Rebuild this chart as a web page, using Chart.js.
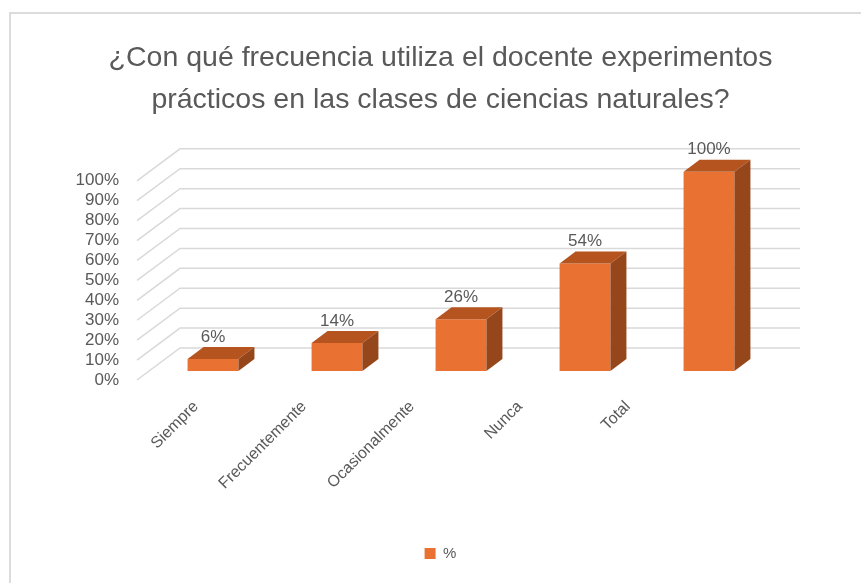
<!DOCTYPE html>
<html>
<head>
<meta charset="utf-8">
<script src="https://cdn.jsdelivr.net/npm/chart.js@4.4.1/dist/chart.umd.min.js"></script>
<style>
  html, body { margin: 0; padding: 0; background: #fff; }
  #marco {
    position: absolute; left: 9px; top: 12px; width: 900px; height: 600px;
    border-top: 2px solid #dcdcdc; border-left: 2px solid #dcdcdc;
  }
  #caja { position: absolute; left: 0; top: 0; width: 861px; height: 583px; }
</style>
</head>
<body>
<div id="marco"></div>
<div id="caja"><canvas id="grafico"></canvas></div>
<script>
// datos
const categorias = ["Siempre", "Frecuentemente", "Ocasionalmente", "Nunca", "Total"];
const porcentajes = [6, 14, 26, 54, 100];
const ticksY = [0, 10, 20, 30, 40, 50, 60, 70, 80, 90, 100];

// cores
const COR_FRENTE = "#E97132";
const COR_TOPO = "#B5541F";
const COR_LADO = "#96461B";
const COR_TEXTO = "#595959";
const COR_GRADE = "#d9d9d9";
const FONTE = "'Liberation Sans', Arial, sans-serif";

// profundidade 3D
const PROF_X = 16;
const PROF_Y = -12;

// grade em perspectiva (linha diagonal + linha de fundo)
const grade3D = {
    id: "grade3D",
    beforeDatasetsDraw(chart) {
        const { ctx, chartArea, scales } = chart;
        const y = scales.y;
        ctx.save();
        ctx.strokeStyle = COR_GRADE;
        ctx.lineWidth = 1.5;
        ticksY.forEach(v => {
            const py = y.getPixelForValue(v);
            ctx.beginPath();
            ctx.moveTo(chartArea.left - 14, py + 9);
            ctx.lineTo(chartArea.left + 29, py - 23);
            ctx.lineTo(chartArea.right + 29, py - 23);
            ctx.stroke();
        });
        ctx.restore();
    }
};

// topo e lateral das barras + rótulos
const barras3D = {
    id: "barras3D",
    afterDatasetsDraw(chart) {
        const { ctx } = chart;
        const meta = chart.getDatasetMeta(0);
        ctx.save();
        meta.data.forEach((bar, i) => {
            const w = bar.width;
            const esq = bar.x - w / 2, dir = bar.x + w / 2;
            const topo = bar.y, base = bar.base;

            ctx.fillStyle = COR_TOPO;
            ctx.beginPath();
            ctx.moveTo(esq, topo);
            ctx.lineTo(esq + PROF_X, topo + PROF_Y);
            ctx.lineTo(dir + PROF_X, topo + PROF_Y);
            ctx.lineTo(dir, topo);
            ctx.closePath();
            ctx.fill();

            ctx.fillStyle = COR_LADO;
            ctx.beginPath();
            ctx.moveTo(dir, topo);
            ctx.lineTo(dir + PROF_X, topo + PROF_Y);
            ctx.lineTo(dir + PROF_X, base + PROF_Y);
            ctx.lineTo(dir, base);
            ctx.closePath();
            ctx.fill();

            // rótulo do valor
            ctx.fillStyle = COR_TEXTO;
            ctx.font = "17px " + FONTE;
            ctx.textAlign = "center";
            ctx.textBaseline = "middle";
            ctx.fillText(porcentajes[i] + "%", bar.x, topo + PROF_Y - 10);
        });
        ctx.restore();
    },
    afterDraw(chart) {
        // categorias inclinadas, com leve encurtamento da perspectiva
        const { ctx } = chart;
        const x = chart.scales.x;
        const x0 = x.getPixelForValue(0);
        ctx.save();
        ctx.fillStyle = COR_TEXTO;
        ctx.font = "16px " + FONTE;
        ctx.textAlign = "right";
        ctx.textBaseline = "middle";
        categorias.forEach((c, i) => {
            const px = x.getPixelForValue(i);
            const fx = px - 17 - (px - x0) * 0.129;
            ctx.save();
            ctx.translate(fx, chart.chartArea.bottom + 33);
            ctx.rotate(-Math.PI / 4);
            ctx.fillText(c, 0, 0);
            ctx.restore();
        });
        ctx.restore();
    }
};

new Chart(document.getElementById("grafico"), {
    type: "bar",
    data: {
        labels: categorias,
        datasets: [{
            label: "%",
            data: porcentajes,
            backgroundColor: COR_FRENTE,
            categoryPercentage: 1,
            barPercentage: 0.41
        }]
    },
    options: {
        responsive: true,
        maintainAspectRatio: false,
        animation: false,
        layout: { padding: { left: 20, right: 0, top: 0, bottom: 12 } },
        plugins: {
            title: {
                display: true,
                text: ["¿Con qué frecuencia utiliza el docente experimentos",
                       "prácticos en las clases de ciencias naturales?"],
                color: COR_TEXTO,
                font: { family: FONTE, size: 28.5, weight: "normal", lineHeight: 1.47 },
                padding: { top: 37, bottom: 51 }
            },
            legend: {
                position: "bottom",
                labels: {
                    boxWidth: 11, boxHeight: 11,
                    color: COR_TEXTO,
                    font: { family: FONTE, size: 15 },
                    padding: 10
                }
            },
            tooltip: { enabled: false }
        },
        scales: {
            x: {
                grid: { display: false },
                border: { display: false },
                ticks: { display: false },
                afterFit(scale) { scale.height = 165; }
            },
            y: {
                min: 0, max: 100,
                grid: { display: false, drawTicks: false },
                border: { display: false },
                ticks: {
                    stepSize: 10,
                    autoSkip: false,
                    padding: 32,
                    labelOffset: 9,
                    color: COR_TEXTO,
                    font: { family: FONTE, size: 17 },
                    callback: v => v + "%"
                },
                afterFit(scale) { scale.width = 131; }
            },
            // eixo vazio só para reservar a margem direita
            margem: {
                position: "right",
                grid: { display: false, drawTicks: false },
                border: { display: false },
                ticks: { display: false },
                afterFit(scale) { scale.width = 90; }
            }
        }
    },
    plugins: [grade3D, barras3D]
});
</script>
</body>
</html>
